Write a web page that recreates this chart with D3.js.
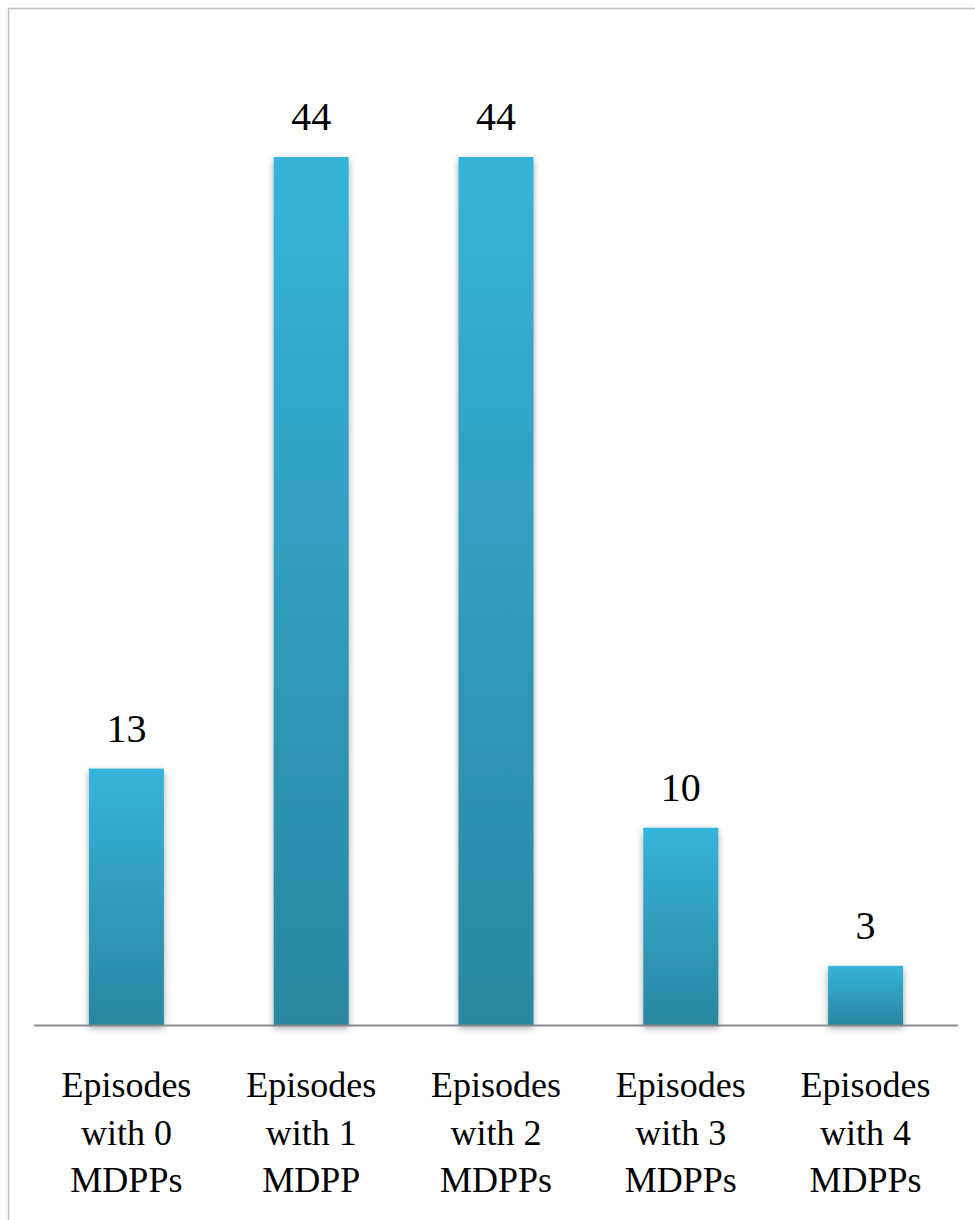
<!DOCTYPE html>
<html>
<head>
<meta charset="utf-8">
<script src="https://cdn.jsdelivr.net/npm/d3@7/dist/d3.min.js"></script>
<style>
  html, body { margin: 0; padding: 0; background: #fff; }
  svg { display: block; }
  svg text { font-family: "Liberation Serif", "Times New Roman", Times, "DejaVu Serif", serif; }
</style>
</head>
<body>
<div id="chart"></div>
<script>
// Episode counts by number of MDPPs
const categories = ["0", "1", "2", "3", "4"];
const labelLines = [
  ["Episodes", "with 0", "MDPPs"],
  ["Episodes", "with 1", "MDPP"],
  ["Episodes", "with 2", "MDPPs"],
  ["Episodes", "with 3", "MDPPs"],
  ["Episodes", "with 4", "MDPPs"]
];
const values = [13, 44, 44, 10, 3];

const W = 975, H = 1220;
const svg = d3.select("#chart").append("svg")
  .attr("width", W).attr("height", H);

// Frame lines along the top and left edge
svg.append("path")
  .attr("d", `M8.5,${H} L8.5,8.5 L${W},8.5`)
  .attr("fill", "none")
  .attr("stroke", "#bdbdbd")
  .attr("stroke-width", 1.5);

const defs = svg.append("defs");
const grad = defs.append("linearGradient")
  .attr("id", "barFill")
  .attr("x1", 0).attr("y1", 0).attr("x2", 0).attr("y2", 1);
grad.append("stop").attr("offset", "0%").attr("stop-color", "#36b4d9");
grad.append("stop").attr("offset", "100%").attr("stop-color", "#2986a0");

const shadow = defs.append("filter")
  .attr("id", "barShadow")
  .attr("x", "-20%").attr("y", "-10%")
  .attr("width", "140%").attr("height", "130%");
shadow.append("feDropShadow")
  .attr("dx", 0).attr("dy", 3)
  .attr("stdDeviation", 3.5)
  .attr("flood-color", "#000")
  .attr("flood-opacity", 0.35);

const x = d3.scaleBand()
  .domain(categories)
  .range([34, 958])
  .paddingInner(0.594)
  .paddingOuter(0.297);

const y = d3.scaleLinear()
  .domain([0, 44])
  .range([1025, 157]);

// Bars
svg.append("g")
  .selectAll("rect")
  .data(values)
  .join("rect")
  .attr("x", (d, i) => x(categories[i]))
  .attr("y", d => y(d))
  .attr("width", x.bandwidth())
  .attr("height", d => y(0) - y(d))
  .attr("fill", "url(#barFill)")
  .attr("filter", "url(#barShadow)");

// Baseline axis
svg.append("line")
  .attr("x1", x.range()[0]).attr("x2", x.range()[1])
  .attr("y1", y(0) + 0.5).attr("y2", y(0) + 0.5)
  .attr("stroke", "#8a8a8a")
  .attr("stroke-width", 2);

// Value labels
svg.append("g")
  .selectAll("text")
  .data(values)
  .join("text")
  .attr("x", (d, i) => x(categories[i]) + x.bandwidth() / 2)
  .attr("y", d => y(d) - 27)
  .attr("text-anchor", "middle")
  .style("font-size", "40px")
  .attr("fill", "#000")
  .text(d => d);

// Category labels
const catG = svg.append("g")
  .selectAll("text")
  .data(labelLines)
  .join("text")
  .attr("text-anchor", "middle")
  .style("font-size", "36px")
  .attr("fill", "#000");

catG.each(function(lines, i) {
  const cx = x(categories[i]) + x.bandwidth() / 2;
  d3.select(this).selectAll("tspan")
    .data(lines)
    .join("tspan")
    .attr("x", cx)
    .attr("y", (l, j) => 1097 + j * 47.5)
    .text(l => l);
});
</script>
</body>
</html>
